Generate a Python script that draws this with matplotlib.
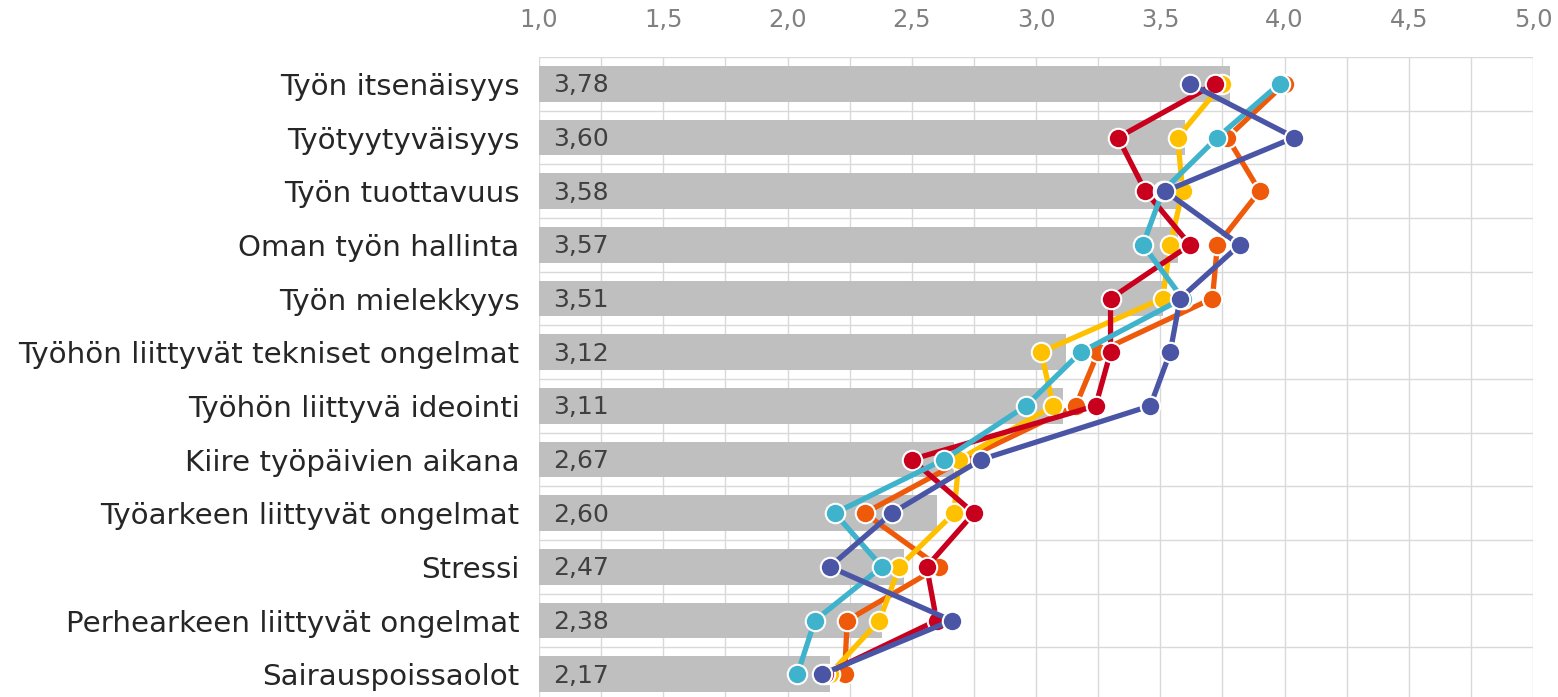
import matplotlib.pyplot as plt
import numpy as np

categories = ['Työn itsenäisyys', 'Työtyytyväisyys', 'Työn tuottavuus',
              'Oman työn hallinta', 'Työn mielekkyys',
              'Työhön liittyvät tekniset ongelmat', 'Työhön liittyvä ideointi',
              'Kiire työpäivien aikana', 'Työarkeen liittyvät ongelmat',
              'Stressi', 'Perhearkeen liittyvät ongelmat', 'Sairauspoissaolot']
bar_values = [3.78, 3.60, 3.58, 3.57, 3.51, 3.12, 3.11, 2.67, 2.60, 2.47, 2.38, 2.17]

# series drawn in this order (last on top)
orange = [4.00, 3.77, 3.90, 3.73, 3.71, 3.25, 3.16, 2.71, 2.31, 2.61, 2.24, 2.23]
yellow = [3.75, 3.57, 3.59, 3.54, 3.51, 3.02, 3.07, 2.69, 2.67, 2.45, 2.37, 2.17]
red = [3.72, 3.33, 3.44, 3.62, 3.30, 3.30, 3.24, 2.50, 2.75, 2.56, 2.60, 2.15]
cyan = [3.98, 3.73, 3.51, 3.43, 3.59, 3.18, 2.96, 2.63, 2.19, 2.38, 2.11, 2.04]
blue = [3.62, 4.04, 3.52, 3.82, 3.58, 3.54, 3.46, 2.78, 2.42, 2.17, 2.66, 2.14]

series = [orange, yellow, red, cyan, blue]
colors = ['#EE5A0A', '#FFC000', '#C8001E', '#3FB2CC', '#4A55A5']

fig = plt.figure(figsize=(15.58, 6.97), dpi=100)
ax = fig.add_axes([539 / 1558, 1 - 701 / 697, (1533 - 539) / 1558, (701 - 57) / 697])

y = np.arange(len(categories))
ax.barh(y, np.array(bar_values) - 1, left=1, height=0.67, color='#BFBFBF', zorder=2)
for yi, v in zip(y, bar_values):
    ax.text(1.055, yi + 0.03, f'{v:.2f}'.replace('.', ','), va='center', ha='left',
            fontsize=18, color='#404040', zorder=3)

for s, c in zip(series, colors):
    ax.plot(s, y, color=c, lw=3.8, marker='o', markersize=14,
            markeredgecolor='white', markeredgewidth=1.5, zorder=4)

ax.set_xlim(1, 5)
ax.set_ylim(len(categories) - 0.5, -0.5)
ax.set_xticks(np.arange(1, 5.01, 0.5))
ax.set_xticks(np.arange(1, 5.01, 0.25), minor=True)
ax.set_xticklabels([f'{t:.1f}'.replace('.', ',') for t in np.arange(1, 5.01, 0.5)],
                   fontsize=17.5, color='#808080')
ax.xaxis.tick_top()
ax.set_yticks(y)
ax.set_yticklabels(categories, fontsize=21.2, color='#262626')
ax.set_yticks(np.arange(-0.5, len(categories), 1), minor=True)
ax.tick_params(which='both', length=0)
ax.tick_params(axis='x', pad=18)
ax.tick_params(axis='y', pad=14)
ax.grid(which='both', axis='x', color='#D9D9D9', lw=1, zorder=0)
ax.grid(which='minor', axis='y', color='#D9D9D9', lw=1, zorder=0)
for sp in ax.spines.values():
    sp.set_visible(False)

fig.savefig('out.png', dpi=100)
